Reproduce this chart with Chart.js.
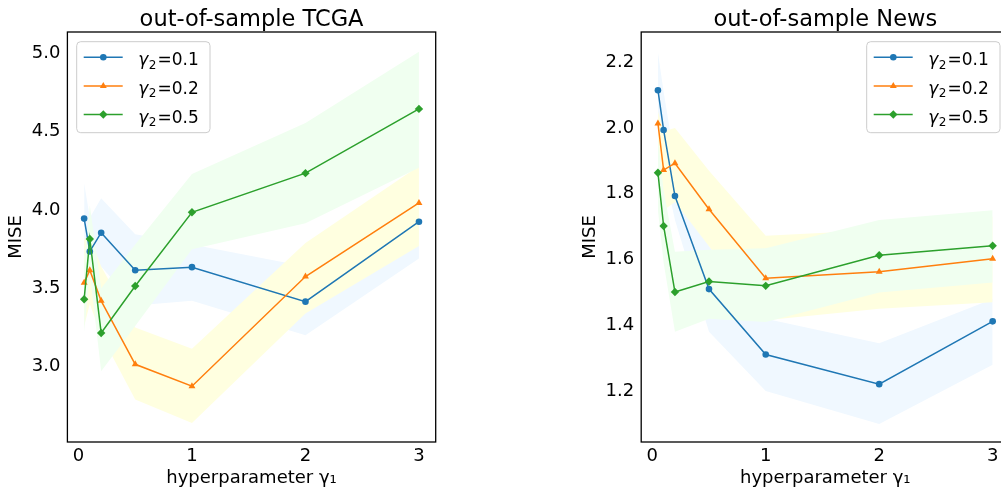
<!DOCTYPE html>
<html>
<head>
<meta charset="utf-8">
<script src="https://cdn.jsdelivr.net/npm/chart.js@4.4.1/dist/chart.umd.min.js"></script>
<style>
  html, body { margin: 0; padding: 0; background: #fff; overflow: hidden; width: 1001px; height: 489px; }
  canvas { position: absolute; top: 0; }
  #tcgaChart { left: 0; }
  #newsChart { left: 560px; }
</style>
</head>
<body>
<canvas id="tcgaChart" width="450" height="489"></canvas>
<canvas id="newsChart" width="460" height="489"></canvas>
<script>
// hyperparameter gamma1 values (x axis)
var gamma1 = [0.05, 0.1, 0.2, 0.5, 1, 2, 3];
var gamma2Labels = ['0.1', '0.2', '0.5'];
var xTicks = [0, 1, 2, 3];

// out-of-sample TCGA
var tcgaMean01 = [3.945, 3.735, 3.855, 3.615, 3.635, 3.415, 3.925];
var tcgaMean02 = [3.535, 3.615, 3.42, 3.015, 2.875, 3.575, 4.045];
var tcgaMean05 = [3.43, 3.815, 3.215, 3.515, 3.985, 4.235, 4.645];
var tcgaLow01  = [3.72, 3.52, 3.64, 3.39, 3.42, 3.20, 3.69];
var tcgaHigh01 = [4.17, 3.95, 4.075, 3.845, 3.78, 3.64, 4.15];
var tcgaLow02  = [3.26, 3.40, 3.20, 2.79, 2.64, 3.34, 3.77];
var tcgaHigh02 = [3.81, 3.83, 3.64, 3.25, 3.115, 3.79, 4.28];
var tcgaLow05  = [3.22, 3.60, 2.97, 3.26, 3.75, 3.915, 4.27];
var tcgaHigh05 = [3.65, 4.03, 3.50, 3.78, 4.23, 4.555, 5.01];
var tcgaYTicks = [3.0, 3.5, 4.0, 4.5, 5.0];

// out-of-sample News
var newsMean01 = [2.115, 1.994, 1.793, 1.51, 1.311, 1.221, 1.412];
var newsMean02 = [2.014, 1.872, 1.893, 1.753, 1.543, 1.563, 1.602];
var newsMean05 = [1.864, 1.702, 1.501, 1.533, 1.52, 1.613, 1.642];
var newsLow01  = [2.00, 1.88, 1.72, 1.38, 1.20, 1.10, 1.28];
var newsHigh01 = [2.23, 2.11, 1.90, 1.64, 1.42, 1.345, 1.48];
var newsLow02  = [1.78, 1.75, 1.775, 1.64, 1.415, 1.45, 1.47];
var newsHigh02 = [2.05, 1.99, 2.00, 1.87, 1.672, 1.69, 1.73];
var newsLow05  = [1.75, 1.59, 1.38, 1.42, 1.41, 1.50, 1.53];
var newsHigh05 = [1.97, 1.81, 1.624, 1.63, 1.634, 1.72, 1.75];
var newsYTicks = [1.2, 1.4, 1.6, 1.8, 2.0, 2.2];

var lineColors = ['#1f77b4', '#ff7f0e', '#2ca02c'];
var bandColors = ['#f0f8ff', '#ffffe0', '#f0fff0'];
var markers = ['circle', 'triangle', 'rectRot'];
var markerSize = [3.3, 4, 4.2];

Chart.defaults.font.family = "'DejaVu Sans', sans-serif";
Chart.defaults.color = '#000';

function pts(ys) {
    return gamma1.map(function (x, i) { return { x: x, y: ys[i] }; });
}

function buildDatasets(means, lows, highs) {
    var ds = [];
    for (var i = 0; i < 3; i++) {
        ds.push({
            label: 'γ2=' + gamma2Labels[i],
            data: pts(means[i]),
            borderColor: lineColors[i],
            backgroundColor: lineColors[i],
            borderWidth: 1.5,
            pointStyle: markers[i],
            pointRadius: markerSize[i],
            pointBorderWidth: 0,
            fill: false,
            tension: 0,
            order: 2 - i
        });
    }
    for (var j = 0; j < 3; j++) {
        ds.push({
            data: pts(lows[j]),
            borderColor: 'transparent',
            borderWidth: 0,
            pointRadius: 0,
            fill: false,
            order: 20 - j
        });
        ds.push({
            data: pts(highs[j]),
            borderColor: 'transparent',
            backgroundColor: bandColors[j],
            borderWidth: 0,
            pointRadius: 0,
            fill: '-1',
            order: 20 - j
        });
    }
    return ds;
}

// black box around the plot area
var framePlugin = {
    id: 'frame',
    afterDraw: function (chart) {
        var a = chart.chartArea, ctx = chart.ctx;
        ctx.save();
        ctx.strokeStyle = '#000';
        ctx.lineWidth = 1.3;
        ctx.strokeRect(a.left, a.top, a.right - a.left, a.bottom - a.top);
        ctx.restore();
    }
};

// matplotlib style legend inside the axes
var boxLegendPlugin = {
    id: 'boxLegend',
    afterDraw: function (chart, args, opts) {
        var a = chart.chartArea, ctx = chart.ctx;
        var w = 133.3, h = 91;
        var bx = opts.corner === 'right' ? a.right - 9.4 - w : a.left + 9.3;
        var by = a.top + 9.7;
        ctx.save();
        ctx.beginPath();
        ctx.roundRect(bx, by, w, h, 4);
        ctx.fillStyle = 'rgba(255,255,255,0.8)';
        ctx.fill();
        ctx.strokeStyle = '#cccccc';
        ctx.lineWidth = 1;
        ctx.stroke();
        for (var i = 0; i < 3; i++) {
            var ry = by + 15.6 + i * 28.6;
            ctx.beginPath();
            ctx.strokeStyle = lineColors[i];
            ctx.lineWidth = 1.5;
            ctx.moveTo(bx + 7, ry);
            ctx.lineTo(bx + 46, ry);
            ctx.stroke();
            ctx.fillStyle = lineColors[i];
            Chart.helpers.drawPoint(ctx, { pointStyle: markers[i], radius: markerSize[i], borderWidth: 0, rotation: 0 }, bx + 26.6, ry);
            ctx.fillStyle = '#000';
            ctx.textBaseline = 'alphabetic';
            ctx.textAlign = 'left';
            var tx = bx + 61.6, ty = ry + 8;
            ctx.font = "italic 17px 'DejaVu Sans'";
            ctx.fillText('γ', tx, ty);
            tx += ctx.measureText('γ').width + 0.5;
            ctx.font = "12px 'DejaVu Sans'";
            ctx.fillText('2', tx, ty + 3.5);
            tx += ctx.measureText('2').width + 1;
            ctx.font = "17px 'DejaVu Sans'";
            ctx.fillText('=' + gamma2Labels[i], tx, ty);
        }
        ctx.restore();
    }
};

function makeChart(id, title, datasets, yMin, yMax, yTicks, yWidth, yTitlePad, rightPad, corner) {
    var ctx = document.getElementById(id).getContext('2d');
    return new Chart(ctx, {
        type: 'line',
        data: { datasets: datasets },
        plugins: [framePlugin, boxLegendPlugin],
        options: {
            responsive: false,
            animation: false,
            devicePixelRatio: 1,
            layout: { padding: { left: 0, right: rightPad, top: 0, bottom: 0 } },
            plugins: {
                legend: { display: false },
                tooltip: { enabled: false },
                title: {
                    display: true,
                    text: title,
                    fullSize: false,
                    color: '#000',
                    font: { size: 22.5, weight: 'normal', lineHeight: 1 },
                    padding: { top: 8.75, bottom: 0.75 }
                },
                boxLegend: { corner: corner }
            },
            scales: {
                x: {
                    type: 'linear',
                    min: -0.0975,
                    max: 3.1475,
                    afterBuildTicks: function (s) { s.ticks = xTicks.map(function (v) { return { value: v }; }); },
                    afterFit: function (s) { s.height = 47; },
                    grid: { display: false, drawTicks: false },
                    border: { display: false },
                    ticks: { padding: 4, font: { size: 18 }, color: '#000', maxRotation: 0, autoSkip: false,
                             callback: function (v) { return String(v); } },
                    title: { display: true, text: 'hyperparameter γ₁', color: '#000', font: { size: 18 }, padding: { top: 0, bottom: 0 } }
                },
                y: {
                    type: 'linear',
                    min: yMin,
                    max: yMax,
                    afterBuildTicks: function (s) { s.ticks = yTicks.map(function (v) { return { value: v }; }); },
                    afterFit: function (s) { s.width = yWidth; },
                    grid: { display: false, drawTicks: false },
                    border: { display: false },
                    ticks: { padding: 7, font: { size: 18 }, color: '#000', autoSkip: false,
                             callback: function (v) { return v.toFixed(1); } },
                    title: { display: true, text: 'MISE', color: '#000', font: { size: 18 }, padding: { top: yTitlePad, bottom: 0 } }
                }
            }
        }
    });
}

makeChart('tcgaChart', 'out-of-sample TCGA',
    buildDatasets([tcgaMean01, tcgaMean02, tcgaMean05], [tcgaLow01, tcgaLow02, tcgaLow05], [tcgaHigh01, tcgaHigh02, tcgaHigh05]),
    2.519, 5.136, tcgaYTicks, 67.4, 5.7, 14.3, 'left');

makeChart('newsChart', 'out-of-sample News',
    buildDatasets([newsMean01, newsMean02, newsMean05], [newsLow01, newsLow02, newsLow05], [newsHigh01, newsHigh02, newsHigh05]),
    1.045, 2.292, newsYTicks, 81.2, 19.9, 10.6, 'right');
</script>
</body>
</html>
